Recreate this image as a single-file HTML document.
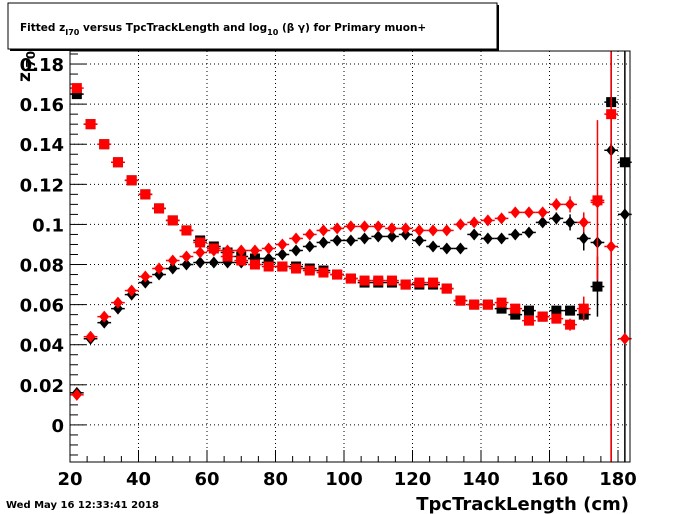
<!DOCTYPE html>
<html><head><meta charset="utf-8"><style>
html,body{margin:0;padding:0;background:#fff;}
svg{display:block;font-family:"DejaVu Sans","Liberation Sans",sans-serif;}
</style></head><body>
<svg id="chart" width="700" height="514" viewBox="0 0 700 514">
<rect x="0" y="0" width="700" height="514" fill="#fff"/>
<g id="grid"></g>
<g id="axes"></g>
<g id="series"></g>
<rect x="70" y="51" width="560" height="411" fill="none" stroke="#000" stroke-width="1"/>
<g>
<rect x="10" y="5" width="489" height="46" fill="#000"/>
<rect x="8" y="3" width="489" height="46" fill="#fff" stroke="#000" stroke-width="1"/>
<text x="20" y="31" font-size="10.5" font-weight="bold">Fitted  z<tspan font-size="8" dy="4">I70</tspan><tspan dy="-4">  versus TpcTrackLength and log</tspan><tspan font-size="8" dy="4">10</tspan><tspan dy="-4"> (β γ) for Primary muon+</tspan></text>
</g>
<text transform="translate(30,82) rotate(-90)" font-size="17" font-weight="bold">z<tspan font-size="12" dy="5">I70</tspan></text>
<text x="629" y="510" text-anchor="end" font-size="18" font-weight="bold">TpcTrackLength (cm)</text>
<text x="6" y="508" font-size="10" font-weight="bold">Wed May 16 12:33:41 2018</text>
</svg>
<script>
const xs=[22,26,30,34,38,42,46,50,54,58,62,66,70,74,78,82,86,90,94,98,102,106,110,114,118,122,126,130,134,138,142,146,150,154,158,162,166,170,174,178,182];
const blackSquare=[0.165,0.150,0.140,0.131,0.122,0.115,0.108,0.102,0.097,0.092,0.089,0.086,0.084,0.083,0.081,0.079,0.079,0.078,0.077,0.075,0.073,0.071,0.071,0.071,0.070,0.070,0.070,0.068,0.062,0.060,0.060,0.058,0.055,0.057,0.054,0.057,0.057,0.055,0.069,0.161,0.131];
const redSquare=[0.168,0.150,0.140,0.131,0.122,0.115,0.108,0.102,0.097,0.091,0.088,0.084,0.082,0.080,0.079,0.079,0.078,0.077,0.076,0.075,0.073,0.072,0.072,0.072,0.070,0.071,0.071,0.068,0.062,0.060,0.060,0.061,0.058,0.052,0.054,0.053,0.050,0.058,0.112,0.155,null];
const blackDiamond=[0.016,0.043,0.051,0.058,0.065,0.071,0.075,0.078,0.080,0.081,0.081,0.081,0.081,0.083,0.083,0.085,0.087,0.089,0.091,0.092,0.092,0.093,0.094,0.094,0.095,0.092,0.089,0.088,0.088,0.095,0.093,0.093,0.095,0.096,0.101,0.103,0.101,0.093,0.091,0.137,0.105];
const redDiamond=[0.015,0.044,0.054,0.061,0.067,0.074,0.078,0.082,0.084,0.086,0.087,0.087,0.087,0.087,0.088,0.090,0.093,0.095,0.097,0.098,0.099,0.099,0.099,0.098,0.098,0.097,0.097,0.097,0.100,0.101,0.102,0.103,0.106,0.106,0.106,0.110,0.110,0.101,0.111,0.089,0.043];
const blackSquareErr=[0,0,0,0,0,0,0,0,0,0,0,0,0,0,0,0,0,0,0,0,0,0,0,0,0,0,0,0,0,0,0,0,0,0,0,0.002,0.002,0.003,0.015,0.3,0.3];
const redSquareErr=[0,0,0,0,0,0,0,0,0,0,0,0,0,0,0,0,0,0,0,0,0,0,0,0,0,0,0,0,0,0,0,0,0,0,0,0.002,0.003,0.006,0.04,0.3,0.3];
const blackDiamondErr=[0,0,0,0,0,0,0,0,0,0,0,0,0,0,0,0,0,0,0,0,0,0,0,0,0,0,0,0,0,0,0,0,0,0,0,0.003,0.004,0.006,0.002,0.002,0.002];
const redDiamondErr=[0,0,0,0,0,0,0,0,0,0,0,0,0,0,0,0,0,0,0,0,0,0,0,0,0,0,0,0,0,0,0,0,0,0,0,0.003,0.004,0.005,0.002,0.002,0.002];
const xTicks=[20,40,60,80,100,120,140,160,180];
const yTicks=[0,0.02,0.04,0.06,0.08,0.1,0.12,0.14,0.16,0.18];
const yTickLabels=["0","0.02","0.04","0.06","0.08","0.1","0.12","0.14","0.16","0.18"];

const L=70,R=630,T=51,B=462;
const X0=20,X1=183.5,Y0=-0.0185,Y1=0.1865;
function sx(v){return L+(v-X0)/(X1-X0)*(R-L);}
function sy(v){return B-(v-Y0)/(Y1-Y0)*(B-T);}
const NS="http://www.w3.org/2000/svg";
function mk(tag,attrs,parent){const e=document.createElementNS(NS,tag);for(const k in attrs)e.setAttribute(k,attrs[k]);parent.appendChild(e);return e;}
const grid=document.getElementById('grid'),axes=document.getElementById('axes'),series=document.getElementById('series');

xTicks.forEach(t=>{
  const x=sx(t);
  const g=mk('line',{x1:x,x2:x,y1:T,y2:B,stroke:'#000','stroke-width':1,'stroke-dasharray':'1,3'},grid);
  
  
  const tk=mk('line',{x1:x,x2:x,y1:B,y2:B-12,stroke:'#000'},axes);
  
  
  const lb=mk('text',{x:x,y:485,'text-anchor':'middle','font-size':18,'font-weight':'bold'},axes);
  lb.textContent=t;
  
  
});
for(let v=20;v<=183;v+=5){if(v%20===0)continue;const x=sx(v);
  const m=mk('line',{x1:x,x2:x,y1:B,y2:B-6,stroke:'#000'},axes);
  
  }
yTicks.forEach((t,i)=>{
  const y=sy(t);
  const g=mk('line',{x1:L,x2:R,y1:y,y2:y,stroke:'#000','stroke-width':1,'stroke-dasharray':'1,3'},grid);
  
  
  const tk=mk('line',{x1:L,x2:L+16,y1:y,y2:y,stroke:'#000'},axes);
  
  
  const lb=mk('text',{x:64,y:y+7,'text-anchor':'end','font-size':18,'font-weight':'bold'},axes);
  lb.textContent=yTickLabels[i];
  
  
});
for(let v=-0.015;v<=0.186;v+=0.005){const r=Math.round(v*1000);if(r%20===0)continue;const y=sy(r/1000);
  const m=mk('line',{x1:L,x2:L+8,y1:y,y2:y,stroke:'#000'},axes);
  
  }

function draw(vals,errs,color,shape,name){
  const g=mk('g',{},series);
  
  
  vals.forEach((v,i)=>{
    if(v===null)return;
    const x=sx(xs[i]),y=sy(v);
    const h=mk('line',{x1:sx(xs[i]-2),x2:sx(xs[i]+2),y1:y,y2:y,stroke:color,'stroke-width':1.5},g);
    
    
    if(errs[i]>0){
      const ya=Math.max(T,Math.min(B,sy(v+errs[i]))),yb=Math.max(T,Math.min(B,sy(v-errs[i])));
      const e=mk('line',{x1:x,x2:x,y1:ya,y2:yb,stroke:color,'stroke-width':1.5},g);
      
      
    }
    let p;
    if(shape==='square') p=mk('rect',{x:x-5,y:y-5,width:10,height:10,fill:color},g);
    else p=mk('polygon',{points:`${x},${y-6} ${x+5},${y} ${x},${y+6} ${x-5},${y}`,fill:color},g);
    
    
  });
}
draw(blackSquare,blackSquareErr,'#000','square','black-square-series');
draw(blackDiamond,blackDiamondErr,'#000','diamond','black-diamond-series');
draw(redSquare,redSquareErr,'#f00','square','red-square-series');
draw(redDiamond,redDiamondErr,'#f00','diamond','red-diamond-series');
</script>
</body></html>
